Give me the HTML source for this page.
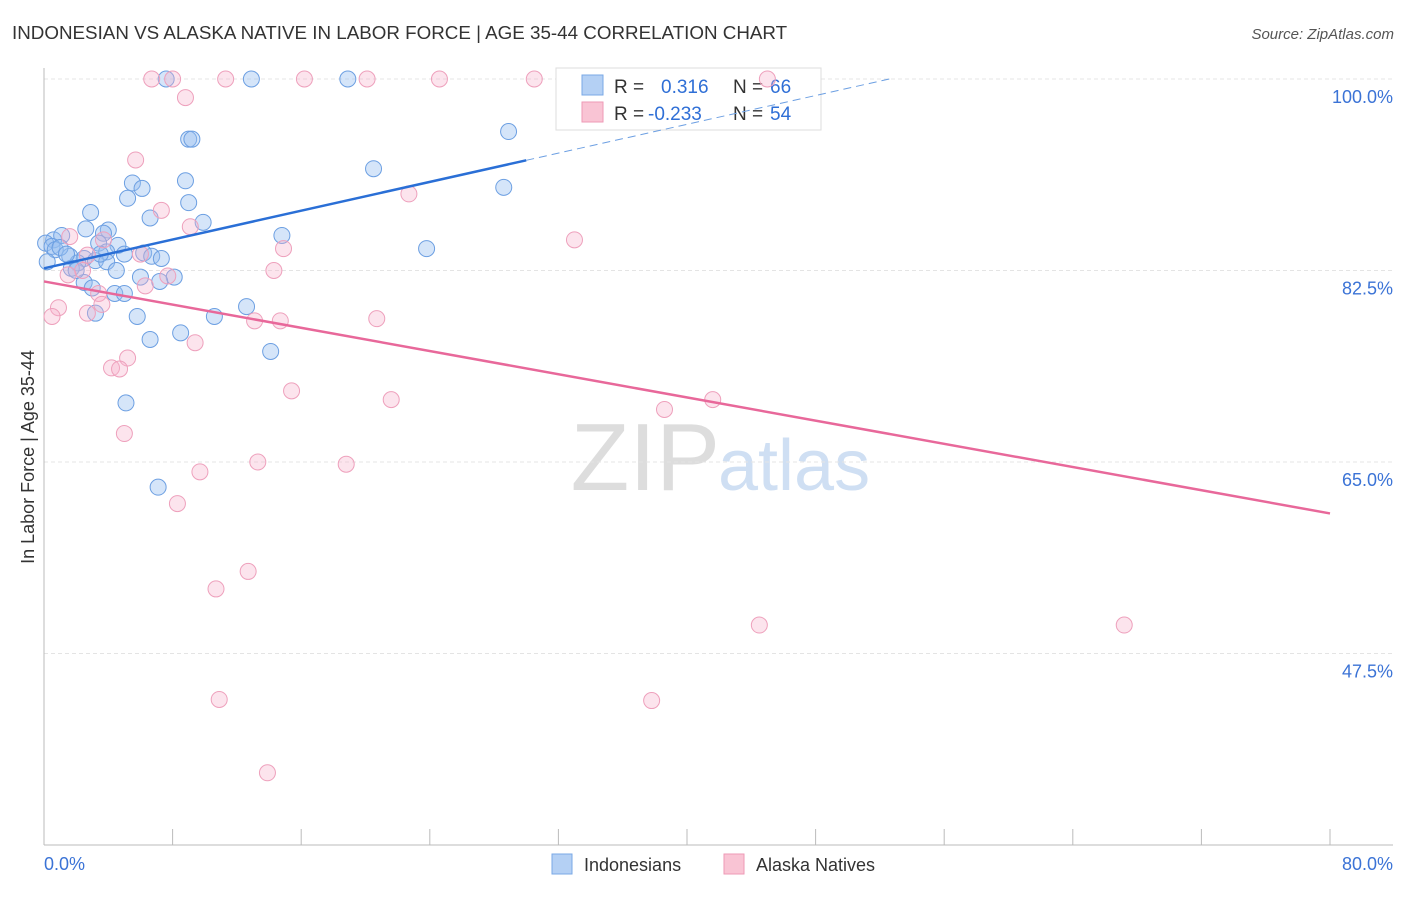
<!DOCTYPE html>
<html><head><meta charset="utf-8"><style>
body{margin:0;background:#fff;font-family:"Liberation Sans",sans-serif;}
svg text{font-family:"Liberation Sans",sans-serif;}
</style></head><body>
<svg id="chart" width="1406" height="892" viewBox="0 0 1406 892" xmlns="http://www.w3.org/2000/svg">
<text x="12" y="39" font-size="18.8" fill="#333">INDONESIAN VS ALASKA NATIVE IN LABOR FORCE | AGE 35-44 CORRELATION CHART</text>
<text x="1394" y="39" font-size="15" fill="#555" text-anchor="end" font-style="italic">Source: ZipAtlas.com</text>
<text x="720" y="490" font-size="96" fill="#ddd" text-anchor="end" font-family="Liberation Serif">ZIP</text>
<text x="718" y="490" font-size="72" fill="#cfdff3">atlas</text>
<g id="grid"></g>
<g id="axes"></g>
<g>
<rect x="556" y="68" width="265" height="62" fill="#fff" stroke="#ddd"/>
<rect x="582" y="75" width="21" height="20" fill="#b4d0f4" stroke="#7aa8e6"/>
<rect x="582" y="102" width="21" height="20" fill="#f9c4d4" stroke="#ee9ab6"/>
<text x="614" y="93" font-size="19" fill="#333">R = </text><text x="661" y="93" font-size="19" fill="#2f6fd6">0.316</text>
<text x="733" y="93" font-size="19" fill="#333">N = </text><text x="770" y="93" font-size="19" fill="#2f6fd6">66</text>
<text x="614" y="120" font-size="19" fill="#333">R = </text><text x="648" y="120" font-size="19" fill="#2f6fd6">-0.233</text>
<text x="733" y="120" font-size="19" fill="#333">N = </text><text x="770" y="120" font-size="19" fill="#2f6fd6">54</text>
</g>
<g id="points"></g>
<g id="trends"></g>
<text transform="translate(34,457) rotate(-90)" font-size="18" fill="#333" text-anchor="middle">In Labor Force | Age 35-44</text>
<g>
<rect x="552" y="854" width="20" height="20" fill="#b4d0f4" stroke="#7aa8e6"/>
<text x="584" y="871" font-size="18" fill="#333">Indonesians</text>
<rect x="724" y="854" width="20" height="20" fill="#f9c4d4" stroke="#ee9ab6"/>
<text x="756" y="871" font-size="18" fill="#333">Alaska Natives</text>
</g>
</svg>
<script>
const yTicks=[100,82.5,65,47.5];
const yTickLabels=["100.0%","82.5%","65.0%","47.5%"];
const xTickLabels=["0.0%","80.0%"];
const blueX=[7.6,12.9,18.9,28.9,9.0,9.2,20.5,28.6,5.5,6.1,8.8,5.2,9.0,2.9,6.6,9.9,2.6,4.0,3.7,14.8,0.6,1.1,0.1,0.5,0.7,3.4,4.6,23.8,3.9,5.0,6.2,6.7,7.3,1.6,2.5,3.2,3.9,2.1,1.7,0.2,4.5,6.0,8.1,7.2,2.5,3.0,4.4,5.0,12.6,5.8,3.2,10.6,6.6,8.5,14.1,5.1,7.1,1.0,1.4,2.0,3.5];
const blueY=[100,100,100,95.2,94.5,94.5,91.8,90.1,90.5,90.0,90.7,89.1,88.7,87.8,87.3,86.9,86.3,86.2,85.9,85.7,85.3,85.7,85.0,84.7,84.4,85.0,84.8,84.5,84.2,84.0,84.1,83.8,83.6,83.8,83.6,83.4,83.3,83.2,82.7,83.3,82.5,81.9,81.9,81.5,81.4,80.9,80.4,80.4,79.2,78.3,78.6,78.3,76.2,76.8,75.1,70.4,62.7,84.6,84.0,82.5,84.0];
const pinkX=[6.7,8.0,11.3,16.2,20.1,24.6,30.5,45.0,8.8,5.7,22.7,7.3,9.1,33.0,1.6,3.7,14.9,2.7,6.0,14.3,2.4,1.5,6.3,7.7,3.4,0.9,0.5,2.7,3.6,13.1,14.7,20.7,9.4,5.2,4.2,4.7,15.4,21.6,41.6,38.6,5.0,13.3,18.8,9.7,8.3,12.7,10.7,44.5,67.2,10.9,37.8,13.9];
const pinkY=[100,100,100,100,100,100,100,100,98.3,92.6,89.5,88.0,86.5,85.3,85.6,85.3,84.5,83.9,84.0,82.5,82.5,82.1,81.1,82.0,80.4,79.1,78.3,78.6,79.4,77.9,77.9,78.1,75.9,74.5,73.6,73.5,71.5,70.7,70.7,69.8,67.6,65.0,64.8,64.1,61.2,55.0,53.4,50.1,50.1,43.3,43.2,36.6];
const blueTrend=[82.7,0.329];
const pinkTrend=[81.5,-0.265];
const NS="http://www.w3.org/2000/svg";
const X=v=>44+v*(1286/80);
const Y=v=>79+(100-v)*(191.5/17.5);
function mk(tag,attrs,parent){const e=document.createElementNS(NS,tag);for(const k in attrs)e.setAttribute(k,attrs[k]);document.getElementById(parent).appendChild(e);return e;}
yTicks.forEach((t,i)=>{
 const l=mk('line',{x1:44,x2:1393,y1:Y(t),y2:Y(t),stroke:'#e4e4e4','stroke-dasharray':'4,3'},'grid');
 
 
 const tx=mk('text',{x:1393,y:Y(t)+24,'font-size':18,fill:'#3b73d6','text-anchor':'end'},'grid');
 tx.textContent=yTickLabels[i];
 
 
});
const ax=mk('line',{x1:44,x2:44,y1:68,y2:845,stroke:'#bbb'},'axes');


const bx=mk('line',{x1:44,x2:1393,y1:845,y2:845,stroke:'#bbb'},'axes');


for(let i=0;i<=10;i++){const t=mk('line',{x1:X(i*8),x2:X(i*8),y1:829,y2:845,stroke:'#bbb'},'axes');
 
 }
[[0,'start',44],[1,'end',1393]].forEach(([i,a,x])=>{const t=mk('text',{x:x,y:870,'font-size':18,fill:'#3b73d6','text-anchor':a},'axes');t.textContent=xTickLabels[i];
 
 });
blueX.forEach((v,i)=>{const c=mk('circle',{cx:X(v),cy:Y(blueY[i]),r:8,fill:'rgba(150,190,240,0.4)',stroke:'#6c9fe2','stroke-width':1},'points');
 
 });
pinkX.forEach((v,i)=>{const c=mk('circle',{cx:X(v),cy:Y(pinkY[i]),r:8,fill:'rgba(246,178,202,0.35)',stroke:'#eea0bc','stroke-width':1},'points');
 
 });
const bEnd=(100-blueTrend[0])/blueTrend[1];
const b1=mk('line',{x1:X(0),y1:Y(blueTrend[0]),x2:X(30),y2:Y(blueTrend[0]+30*blueTrend[1]),stroke:'#2a6fd6','stroke-width':2.5},'trends');


const b2=mk('line',{x1:X(30),y1:Y(blueTrend[0]+30*blueTrend[1]),x2:X(bEnd),y2:Y(100),stroke:'#6c9fe2','stroke-width':1,'stroke-dasharray':'8,5'},'trends');


const p1=mk('line',{x1:X(0),y1:Y(pinkTrend[0]),x2:X(80),y2:Y(pinkTrend[0]+80*pinkTrend[1]),stroke:'#e8689a','stroke-width':2.5},'trends');


</script>
</body></html>
